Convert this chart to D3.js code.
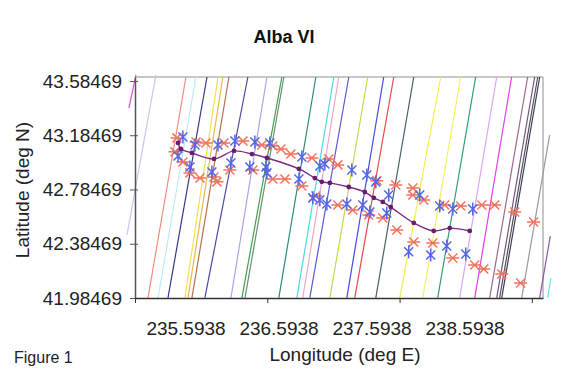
<!DOCTYPE html>
<html>
<head>
<meta charset="utf-8">
<script src="https://cdn.jsdelivr.net/npm/d3@7"></script>
<style>
  body { margin: 0; background: #fff; }
  svg { display: block; font-family: "Liberation Sans", Arial, sans-serif; }
</style>
</head>
<body>
<svg id="chart" width="574" height="369"></svg>
<script>
const lonTicks = [235.5938, 236.5938, 237.5938, 238.5938];
const latTicks = [41.98469, 42.38469, 42.78469, 43.18469, 43.58469];

// ground tracks: [lon1, lat1, lon2, lat2]
const tracks = [
  [235.548, 43.385, 235.601, 43.629],
  [235.533, 42.449, 235.752, 43.629],
  [235.692, 41.985, 235.979, 43.614],
  [235.768, 41.985, 236.054, 43.614],
  [235.843, 41.985, 236.138, 43.614],
  [235.971, 41.985, 236.221, 43.614],
  [235.994, 41.985, 236.258, 43.614],
  [236.024, 41.985, 236.304, 43.614],
  [236.122, 41.985, 236.447, 43.614],
  [236.319, 41.985, 236.591, 43.614],
  [236.402, 41.985, 236.704, 43.614],
  [236.425, 41.985, 236.719, 43.614],
  [236.681, 41.985, 236.961, 43.614],
  [236.817, 41.985, 237.097, 43.614],
  [236.862, 41.985, 237.134, 43.614],
  [236.915, 41.985, 237.210, 43.614],
  [237.067, 41.985, 237.353, 43.614],
  [237.195, 41.985, 237.474, 43.614],
  [237.255, 41.985, 237.550, 43.614],
  [237.414, 41.985, 237.701, 43.614],
  [237.595, 41.985, 237.905, 43.614],
  [237.769, 41.985, 238.056, 43.614],
  [237.882, 41.985, 238.169, 43.614],
  [238.048, 41.985, 238.328, 43.614],
  [238.162, 41.985, 238.441, 43.614],
  [238.275, 41.985, 238.562, 43.614],
  [238.328, 41.985, 238.615, 43.614],
  [238.350, 41.985, 238.638, 43.614],
  [238.366, 41.985, 238.653, 43.614],
  [238.517, 41.985, 238.728, 43.186],
  [238.653, 41.985, 238.733, 42.441],
  [238.713, 41.985, 238.738, 42.132]
];
const trackColors = [
  "#e24ce0", "#c9c6f2", "#f28a80", "#bdebf0", "#34388e", "#f2e24a", "#e8b84a", "#b8704a",
  "#4a4aa2", "#a9a6e6", "#3ea14a", "#6a8f70", "#2e8a78", "#4fd6e6", "#f2a6c4", "#5a5ad6",
  "#c6d84a", "#4848e2", "#e84848", "#46606e", "#f4ee4a", "#f4f060", "#2f9c7e", "#d6a8f4",
  "#e040e4", "#a0688e", "#74507e", "#505054", "#3c3c5a", "#9a9a9a", "#8a5aa0", "#66e0e8"
];

// red asterisks [lon, lat]
const redPts = [
  [235.911, 43.165], [236.055, 43.135], [236.130, 43.128], [236.266, 43.128], [236.410, 43.142],
  [236.553, 43.113], [236.636, 43.105], [236.697, 43.083], [236.772, 43.046], [236.931, 43.017],
  [237.059, 43.010], [237.127, 42.966], [237.422, 42.850], [237.565, 42.818], [237.694, 42.796],
  [235.896, 43.062], [235.956, 42.987], [236.009, 42.907], [236.085, 42.869], [236.191, 42.877],
  [236.311, 42.928], [236.485, 42.928], [236.636, 42.862], [236.727, 42.862], [236.855, 42.811],
  [236.961, 42.737], [237.127, 42.671], [237.240, 42.634], [237.361, 42.597], [237.467, 42.575],
  [237.573, 42.486], [237.694, 42.744], [237.777, 42.707], [237.935, 42.671], [238.056, 42.663],
  [238.215, 42.671], [238.313, 42.671], [238.464, 42.619], [238.607, 42.545], [237.701, 42.398],
  [237.845, 42.390], [237.996, 42.279], [238.162, 42.228], [238.230, 42.199], [238.366, 42.161],
  [238.509, 42.095], [236.213, 42.841]
];

// blue asterisks [lon, lat]
const bluePts = [
  [235.956, 43.172], [236.047, 43.113], [236.221, 43.113], [236.349, 43.142], [236.500, 43.135],
  [236.613, 43.128], [236.855, 43.024], [236.991, 42.958], [237.029, 42.973], [237.233, 42.928],
  [237.346, 42.892], [235.919, 43.032], [236.009, 42.951], [236.175, 42.914], [236.319, 42.980],
  [236.462, 42.951], [236.583, 42.951], [236.591, 42.907], [236.833, 42.862], [236.938, 42.723],
  [236.991, 42.707], [237.044, 42.678], [237.195, 42.678], [237.316, 42.671], [237.369, 42.619],
  [237.414, 42.841], [237.512, 42.744], [237.497, 42.611], [237.746, 42.744], [237.897, 42.663],
  [237.996, 42.641], [238.147, 42.641], [237.950, 42.368], [237.829, 42.302], [238.094, 42.309],
  [237.663, 42.325]
];

// purple estimated path [lon, lat]
const pathPts = [
  [235.919, 43.128], [235.941, 43.083], [236.024, 43.054], [236.191, 43.010], [236.342, 43.069],
  [236.478, 43.046], [236.591, 43.017], [236.833, 42.936], [236.953, 42.869], [237.006, 42.841],
  [237.067, 42.833], [237.210, 42.803], [237.331, 42.766], [237.399, 42.723], [237.467, 42.693],
  [237.527, 42.655], [237.701, 42.538], [237.852, 42.479], [237.973, 42.500], [238.124, 42.479]
];

const svg = d3.select('#chart');

const x = d3.scaleLinear().domain([235.5938, 238.678]).range([135, 543]);
const y = d3.scaleLinear().domain([41.98469, 43.614]).range([298, 77]);
// tick labels in the original sit off their ticks
const xLabel = d3.scaleLinear().domain([lonTicks[0], lonTicks[3]]).range([186, 465]);

// frame (top and right)
svg.append('line').attr('x1', x.range()[0]).attr('x2', x.range()[1])
  .attr('y1', y.range()[1]).attr('y2', y.range()[1])
  .style('stroke', '#b4b4b4').style('stroke-width', 1.5);
svg.append('line').attr('x1', x.range()[1]).attr('x2', x.range()[1])
  .attr('y1', y.range()[1]).attr('y2', y.range()[0])
  .style('stroke', '#b4b4b4').style('stroke-width', 1.5);

// tracks
svg.append('g').selectAll('line')
  .data(tracks)
  .enter()
  .append('line')
  .attr('x1', d => x(d[0])).attr('y1', d => y(d[1]))
  .attr('x2', d => x(d[2])).attr('y2', d => y(d[3]))
  .style('stroke', (d, i) => trackColors[i])
  .style('stroke-width', 1.2);

// asterisk markers
function star(g, pts, color, vertical) {
  const m = g.selectAll('g').data(pts).enter().append('g')
    .attr('transform', d => `translate(${x(d[0])},${y(d[1])})`)
    .style('stroke', color).style('stroke-width', 1.5).style('fill', 'none');
  m.append('path').attr('d', vertical
    ? 'M-4.5,-4.5L4.5,4.5M-4.5,4.5L4.5,-4.5M0,-6.5L0,6.5'
    : 'M-4.5,-4.5L4.5,4.5M-4.5,4.5L4.5,-4.5M-6.5,0L6.5,0');
}
star(svg.append('g'), redPts, '#f4735f', false);
star(svg.append('g'), bluePts, '#5566e6', true);

// estimated path
const line = d3.line().x(d => x(d[0])).y(d => y(d[1])).curve(d3.curveCatmullRom);
svg.append('path')
  .datum(pathPts)
  .attr('d', line)
  .style('fill', 'none')
  .style('stroke', '#7c2c80')
  .style('stroke-width', 1.4);
svg.append('g').selectAll('circle')
  .data(pathPts)
  .enter()
  .append('circle')
  .attr('cx', d => x(d[0])).attr('cy', d => y(d[1]))
  .attr('r', 2.4)
  .style('fill', '#6a1a70');

// left axis
const yAxis = svg.append('g')
  .attr('transform', `translate(${x.range()[0]},0)`)
  .call(d3.axisLeft(y).tickValues(latTicks).tickSizeInner(5).tickSizeOuter(0).tickFormat(d3.format('.5f')));
yAxis.select('.domain').style('stroke', '#555').style('stroke-width', 1.5);
yAxis.selectAll('.tick line').attr('x2', 3).attr('x1', -5).style('stroke', '#555');
yAxis.selectAll('.tick text')
  .attr('x', -13)
  .style('font-size', '19px')
  .style('fill', '#222')
  .style('font-family', '"Liberation Sans", Arial, sans-serif');

// bottom axis
const xAxis = svg.append('g')
  .attr('transform', `translate(0,${y.range()[0]})`)
  .call(d3.axisBottom(x).tickValues(lonTicks).tickSizeInner(5).tickSizeOuter(0).tickFormat(''));
xAxis.select('.domain').style('stroke', '#333').style('stroke-width', 1.5);
xAxis.selectAll('.tick line').style('stroke', '#333');

svg.append('g').selectAll('text')
  .data(lonTicks)
  .enter()
  .append('text')
  .attr('x', d => xLabel(d))
  .attr('y', 335)
  .attr('text-anchor', 'middle')
  .style('font-size', '19px')
  .style('fill', '#222')
  .text(d => d3.format('.4f')(d));

// titles
svg.append('text')
  .attr('x', 284).attr('y', 43)
  .attr('text-anchor', 'middle')
  .style('font-size', '18px')
  .style('font-weight', 'bold')
  .style('fill', '#111')
  .text('Alba VI');

svg.append('text')
  .attr('x', 345).attr('y', 361)
  .attr('text-anchor', 'middle')
  .style('font-size', '19px')
  .style('fill', '#222')
  .text('Longitude (deg E)');

svg.append('text')
  .attr('transform', 'translate(29,190) rotate(-90)')
  .attr('text-anchor', 'middle')
  .style('font-size', '19px')
  .style('fill', '#222')
  .text('Latitude (deg N)');

svg.append('text')
  .attr('x', 14).attr('y', 363)
  .style('font-size', '16px')
  .style('fill', '#222')
  .text('Figure 1');
</script>
</body>
</html>
